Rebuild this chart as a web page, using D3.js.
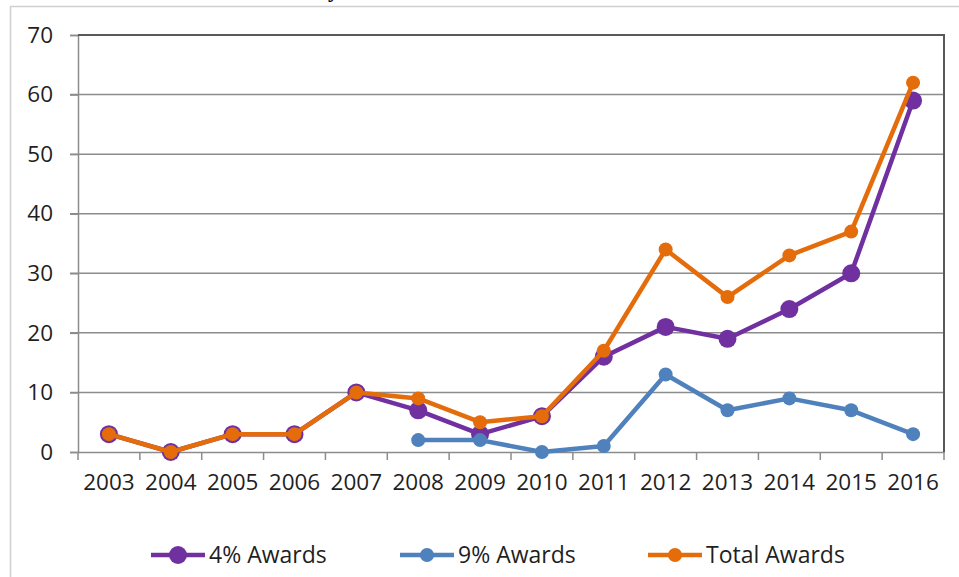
<!DOCTYPE html>
<html>
<head>
	<meta charset="UTF-8">
	<title>Awards by Year</title>
	<script src="https://d3js.org/d3.v7.min.js"></script>
	<style>
		body { margin: 0; background: #fff; }
		text { font-family: "Open Sans", "Noto Sans", sans-serif; fill: #1f1f1f; }
		.grid line { stroke: #8c8c8c; stroke-width: 1.5px; }
	</style>
</head>
<body>
	<script>
		// Values
		var years = ["2003","2004","2005","2006","2007","2008","2009","2010","2011","2012","2013","2014","2015","2016"];
		var awards4 = [3, 0, 3, 3, 10, 7, 3, 6, 16, 21, 19, 24, 30, 59];
		var awards9 = [null, null, null, null, null, 2, 2, 0, 1, 13, 7, 9, 7, 3];
		var awardsTotal = [3, 0, 3, 3, 10, 9, 5, 6, 17, 34, 26, 33, 37, 62];
		var yTicks = [0, 10, 20, 30, 40, 50, 60, 70];

		var series = [
			{ name: "4% Awards", values: awards4, color: "#7030a0", r: 9 },
			{ name: "9% Awards", values: awards9, color: "#4f81bd", r: 7 },
			{ name: "Total Awards", values: awardsTotal, color: "#e46c0a", r: 7 }
		];

		var width = 959, height = 577;
		var plot = { left: 78, right: 944, top: 35, bottom: 452 };

		var svg = d3.select("body").append("svg")
			.attr("width", width)
			.attr("height", height);

		// outer chart frame (only top and left visible)
		svg.append("line").attr("x1", 10).attr("x2", width).attr("y1", 6.5).attr("y2", 6.5)
			.attr("stroke", "#d0d0d0").attr("stroke-width", 1.5);
		svg.append("line").attr("x1", 10.5).attr("x2", 10.5).attr("y1", 6).attr("y2", height)
			.attr("stroke", "#d0d0d0").attr("stroke-width", 1.5);

		// cut-off title (only a descender shows above the frame)
		svg.append("text").attr("x", 328).attr("y", -3)
			.style("font-family", "'Liberation Serif', serif").style("font-weight", "bold")
			.style("font-size", "22px").style("fill", "#000").text("y");

		var x = d3.scaleBand().domain(years).range([plot.left, plot.right]);
		var y = d3.scaleLinear().domain([0, 70]).range([plot.bottom, plot.top]);

		// horizontal gridlines
		svg.append("g").attr("class", "grid")
			.selectAll("line")
			.data(yTicks.filter(function(d) { return d > 0 && d < 70; }))
			.enter().append("line")
			.attr("x1", plot.left - 8).attr("x2", plot.right)
			.attr("y1", function(d) { return y(d); })
			.attr("y2", function(d) { return y(d); });

		// y axis
		var yAxis = svg.append("g")
			.attr("transform", "translate(" + plot.left + ",0)")
			.call(d3.axisLeft(y).tickValues(yTicks).tickSize(8).tickPadding(17));
		yAxis.select(".domain").attr("stroke", "#8c8c8c").attr("stroke-width", 1.5);
		yAxis.selectAll(".tick line").attr("stroke", "#8c8c8c").attr("stroke-width", 1.5);
		yAxis.selectAll("text").style("font-size", "22.5px").attr("fill", "#1f1f1f");

		// x axis
		var xAxis = svg.append("g")
			.attr("transform", "translate(0," + plot.bottom + ")")
			.call(d3.axisBottom(x).tickSize(0).tickPadding(22));
		xAxis.select(".domain").attr("stroke", "#8c8c8c").attr("stroke-width", 1.5);
		xAxis.selectAll("text").style("font-size", "22.5px").attr("fill", "#1f1f1f");
		// tick marks between categories
		xAxis.selectAll(".sep")
			.data(years.concat(["end"]))
			.enter().append("line")
			.attr("class", "sep")
			.attr("x1", function(d, i) { return plot.left + i * x.step(); })
			.attr("x2", function(d, i) { return plot.left + i * x.step(); })
			.attr("y1", 0).attr("y2", 8)
			.attr("stroke", "#8c8c8c").attr("stroke-width", 1.5);

		// plot area border top + right
		svg.append("path")
			.attr("d", "M" + plot.left + "," + plot.top + "H" + plot.right + "V" + plot.bottom)
			.attr("fill", "none").attr("stroke", "#595959").attr("stroke-width", 2);

		var line = d3.line()
			.defined(function(d) { return d != null; })
			.x(function(d, i) { return x(years[i]) + x.bandwidth() / 2; })
			.y(function(d) { return y(d); });

		series.forEach(function(s) {
			var g = svg.append("g");
			g.append("path")
				.datum(s.values)
				.attr("fill", "none")
				.attr("stroke", s.color)
				.attr("stroke-width", 4.5)
				.attr("stroke-linejoin", "round")
				.attr("d", line);
			g.selectAll("circle")
				.data(s.values.map(function(v, i) { return { v: v, i: i }; }).filter(function(d) { return d.v != null; }))
				.enter().append("circle")
				.attr("cx", function(d) { return x(years[d.i]) + x.bandwidth() / 2; })
				.attr("cy", function(d) { return y(d.v); })
				.attr("r", s.r)
				.attr("fill", s.color);
		});

		// legend
		var legendX = [151, 400, 648];
		var legend = svg.selectAll(".legend")
			.data(series)
			.enter().append("g")
			.attr("class", "legend")
			.attr("transform", function(d, i) { return "translate(" + legendX[i] + ",555)"; });
		legend.append("line")
			.attr("x1", 0).attr("x2", 54).attr("y1", 0).attr("y2", 0)
			.attr("stroke", function(d) { return d.color; })
			.attr("stroke-width", 4.5);
		legend.append("circle")
			.attr("cx", 27).attr("cy", 0)
			.attr("r", function(d) { return d.r; })
			.attr("fill", function(d) { return d.color; });
		legend.append("text")
			.attr("x", 58).attr("y", 0).attr("dy", "0.35em")
			.style("font-size", "23px")
			.text(function(d) { return d.name; });
	</script>
</body>
</html>
